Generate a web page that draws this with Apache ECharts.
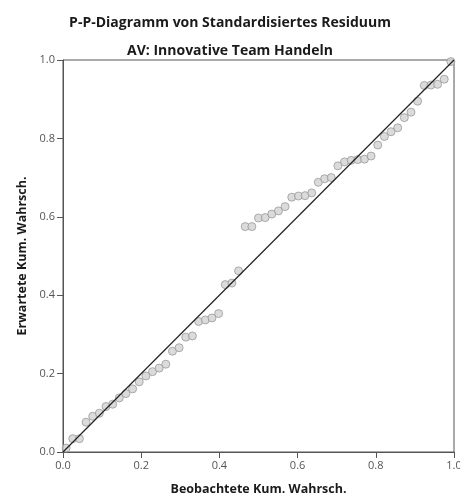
<!DOCTYPE html>
<html>
<head>
<meta charset="utf-8">
<script src="https://cdn.jsdelivr.net/npm/echarts@6/dist/echarts.min.js"></script>
<style>html,body{margin:0;padding:0;background:#fff;}#c{width:460px;height:496px;}</style>
</head>
<body>
<div id="c"></div>
<script>
var titleText = 'P-P-Diagramm von Standardisiertes Residuum';
var subtitleText = 'AV: Innovative Team Handeln';
var xAxisName = 'Beobachtete Kum. Wahrsch.';
var yAxisName = 'Erwartete Kum. Wahrsch.';
var tickValues = [0, 0.2, 0.4, 0.6, 0.8, 1.0];

var observed = [0.008, 0.025, 0.042, 0.059, 0.076, 0.093, 0.110, 0.127, 0.144, 0.161,
  0.178, 0.195, 0.212, 0.229, 0.246, 0.263, 0.280, 0.297, 0.314, 0.331,
  0.347, 0.364, 0.381, 0.398, 0.415, 0.432, 0.449, 0.466, 0.483, 0.500,
  0.517, 0.534, 0.551, 0.568, 0.585, 0.602, 0.619, 0.636, 0.653, 0.669,
  0.686, 0.703, 0.720, 0.737, 0.754, 0.771, 0.788, 0.805, 0.822, 0.839,
  0.856, 0.873, 0.890, 0.907, 0.924, 0.941, 0.958, 0.975, 0.992];
var expected = [0.010, 0.034, 0.034, 0.076, 0.091, 0.099, 0.116, 0.122, 0.138, 0.149,
  0.161, 0.179, 0.194, 0.205, 0.214, 0.224, 0.257, 0.266, 0.293, 0.296,
  0.333, 0.337, 0.342, 0.353, 0.427, 0.431, 0.462, 0.575, 0.575, 0.597,
  0.598, 0.607, 0.615, 0.626, 0.650, 0.653, 0.654, 0.661, 0.688, 0.697,
  0.700, 0.730, 0.740, 0.744, 0.746, 0.747, 0.755, 0.783, 0.805, 0.817,
  0.827, 0.853, 0.867, 0.895, 0.935, 0.936, 0.938, 0.951, 0.996];
var diagonal = [[0, 0], [1, 1]];

var points = observed.map(function (x, i) { return [x, expected[i]]; });
var font = '"Open Sans", "Noto Sans", sans-serif';

var chart = echarts.init(document.getElementById('c'), null, {renderer: 'canvas'});
chart.setOption({
  animation: false,
  backgroundColor: '#ffffff',
  title: [
    {text: titleText, left: 'center', top: 11,
     textStyle: {fontFamily: font, fontSize: 14, fontWeight: 'bold', color: '#1a1a1a'}},
    {text: subtitleText, left: 'center', top: 39,
     textStyle: {fontFamily: font, fontSize: 14, fontWeight: 'bold', color: '#1a1a1a'}}
  ],
  grid: {left: 63, right: 6, top: 60, bottom: 44, show: true,
         borderColor: '#555', borderWidth: 1, outerBoundsMode: 'none', containLabel: false},
  xAxis: {
    type: 'value', min: 0, max: 1, interval: 0.2,
    name: xAxisName, nameLocation: 'middle', nameGap: 31,
    nameTextStyle: {fontFamily: font, fontSize: 12.5, fontWeight: 'bold', color: '#1a1a1a'},
    axisLine: {show: true, lineStyle: {color: '#555', width: 1}},
    axisTick: {show: true, inside: false, length: 6, lineStyle: {color: '#555'}},
    axisLabel: {fontFamily: font, fontSize: 11, color: '#555', margin: 8,
      formatter: function (v) { return v.toFixed(1); }},
    splitLine: {show: false}
  },
  yAxis: {
    type: 'value', min: 0, max: 1, interval: 0.2,
    name: yAxisName, nameLocation: 'middle', nameGap: 34,
    nameTextStyle: {fontFamily: font, fontSize: 12.5, fontWeight: 'bold', color: '#1a1a1a'},
    axisLine: {show: true, lineStyle: {color: '#555', width: 1}},
    axisTick: {show: true, inside: false, length: 6, lineStyle: {color: '#555'}},
    axisLabel: {fontFamily: font, fontSize: 11, color: '#555', margin: 8,
      formatter: function (v) { return v.toFixed(1); }},
    splitLine: {show: false}
  },
  series: [
    {type: 'scatter', data: points, symbol: 'circle', symbolSize: 8,
     itemStyle: {color: '#d2d2d2', borderColor: '#9a9a9a', borderWidth: 1}, z: 2},
    {type: 'line', data: diagonal, symbol: 'none', silent: true,
     lineStyle: {color: '#222', width: 1.2}, z: 3}
  ]
});
</script>
</body>
</html>
